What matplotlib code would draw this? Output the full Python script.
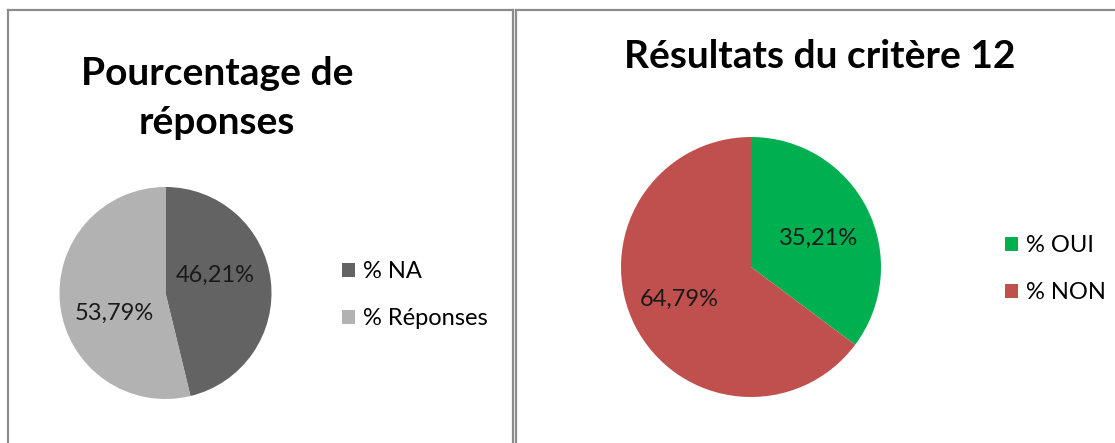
import matplotlib
matplotlib.use('Agg')
import matplotlib.pyplot as plt
from matplotlib.lines import Line2D

plt.rcParams['font.family'] = ['Lato', 'DejaVu Sans']

# left chart: share of answers
left_title = 'Pourcentage de\nréponses'
left_labels = ['% NA', '% Réponses']
left_values = [46.21, 53.79]
left_colours = ['#636363', '#b2b2b2']

# right chart: results of criterion 12
right_title = 'Résultats du critère 12'
right_labels = ['% OUI', '% NON']
right_values = [35.21, 64.79]
right_colours = ['#00b050', '#c0504d']

W, H = 1115, 443
fig = plt.figure(figsize=(W / 100, H / 100), dpi=100)


def px_axes(x0, y0, x1, y1):
    # pixel box (top-left origin) -> figure axes
    return fig.add_axes([x0 / W, 1 - y1 / H, (x1 - x0) / W, (y1 - y0) / H])


def fmt(p):
    return ('%.2f%%' % p).replace('.', ',')


def draw_pie(ax, values, colours, label_pos):
    wedges, _, autotexts = ax.pie(values, colors=colours, startangle=90,
                                  counterclock=False, autopct=fmt,
                                  textprops={'fontsize': 17, 'color': '#1a1a1a'})
    for t, pos in zip(autotexts, label_pos):
        t.set_position(pos)
    ax.set_xlim(-1, 1)
    ax.set_ylim(-1, 1)
    ax.set_aspect('equal')
    return wedges


ax1 = px_axes(59.5, 187, 271.5, 399)
w1 = draw_pie(ax1, left_values, left_colours, [(0.47, 0.17), (-0.48, -0.19)])

ax2 = px_axes(621, 137, 881, 397)
w2 = draw_pie(ax2, right_values, right_colours, [(0.52, 0.22), (-0.55, -0.25)])

fig.text(217 / W, 1 - 98 / H, left_title, ha='center', va='center',
         fontsize=28, fontweight='bold', linespacing=1.5, color='black')
fig.text(820 / W, 1 - 57 / H, right_title, ha='center', va='center',
         fontsize=28, fontweight='bold', color='black')

leg_kw = dict(frameon=False, fontsize=17, handlelength=0.55, handleheight=0.55,
              handletextpad=0.3, labelspacing=1.1, borderaxespad=0,
              loc='upper left')
fig.legend(w1, left_labels, bbox_to_anchor=(333 / W, 1 - 252 / H), **leg_kw)
fig.legend(w2, right_labels, bbox_to_anchor=(996 / W, 1 - 226 / H), **leg_kw)

# panel borders
grey = '#8c8c8c'
for xs, ys in [([8, 8], [10, H]), ([8, 513], [10, 10]), ([513, 513], [10, H]),
               ([516, 516], [10, H]), ([516, W], [10, 10])]:
    fig.add_artist(Line2D([x / W for x in xs], [1 - y / H for y in ys],
                          color=grey, lw=1.6, transform=fig.transFigure))

fig.savefig('out.png', dpi=100, facecolor='white')
